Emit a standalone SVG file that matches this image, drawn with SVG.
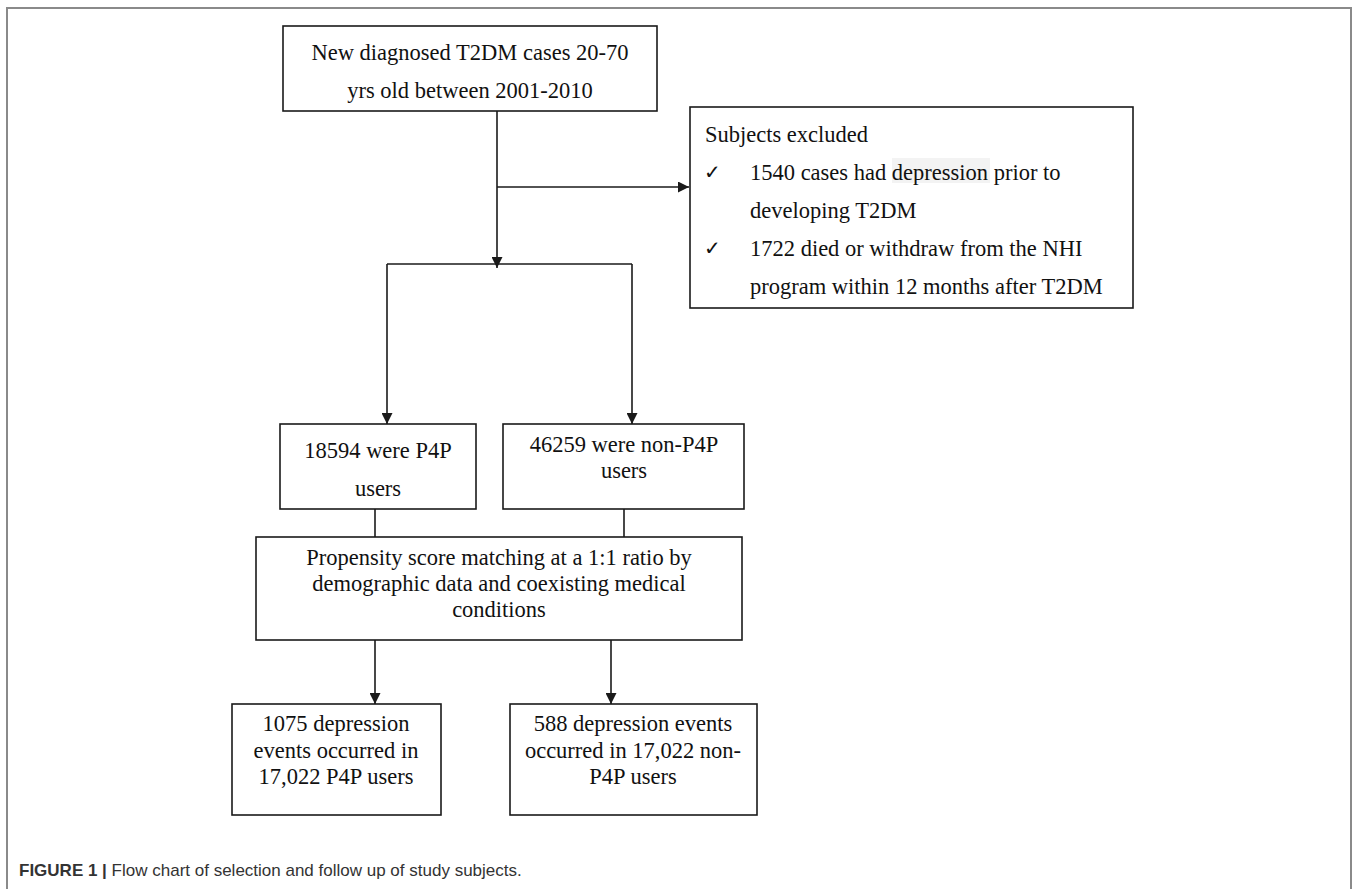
<svg xmlns="http://www.w3.org/2000/svg" width="1358" height="889" viewBox="0 0 1358 889">
<style>
.box{fill:#fff;stroke:#1a1a1a;stroke-width:1.6}
.t{font-family:"Liberation Serif","Times New Roman",serif;font-size:22.5px;fill:#111}
.c{text-anchor:middle}
.chk{font-family:"DejaVu Sans",sans-serif;font-size:20px;fill:#111}
.ln{fill:none;stroke:#1a1a1a;stroke-width:1.6}
.cap{font-family:"Liberation Sans",Arial,sans-serif;font-size:17px;fill:#333}
</style>
<defs>
<marker id="ah" markerUnits="userSpaceOnUse" markerWidth="11" markerHeight="11" refX="11" refY="5.5" orient="auto">
<path d="M0,0 L11,5.5 L0,11 z" fill="#1a1a1a"/>
</marker>
</defs>
<rect x="7" y="8" width="1344" height="900" fill="#fff" stroke="#8a8a8a" stroke-width="2"/>
<g id="connectors">
<path class="ln" d="M497,111 V268" marker-end="url(#ah)"/>
<path class="ln" d="M497,187 H689" marker-end="url(#ah)"/>
<path class="ln" d="M387,264 H632"/>
<path class="ln" d="M387,264 V424" marker-end="url(#ah)"/>
<path class="ln" d="M632,264 V424" marker-end="url(#ah)"/>
<path class="ln" d="M375,509 V537"/>
<path class="ln" d="M624,509 V537"/>
<path class="ln" d="M375,640 V704" marker-end="url(#ah)"/>
<path class="ln" d="M611,640 V704" marker-end="url(#ah)"/>
</g>
<g id="n-start">
<rect class="box" x="283" y="26" width="374" height="85"/>
<text class="t c" x="470" y="60">New diagnosed T2DM cases 20-70</text>
<text class="t c" x="470" y="98">yrs old between 2001-2010</text>
</g>
<g id="n-excluded">
<rect class="box" x="690" y="107" width="443" height="201"/>
<rect x="892" y="158" width="98" height="25" fill="#f3f3f3"/>
<text class="t" x="705" y="142">Subjects excluded</text>
<text class="chk" x="704" y="179">✓</text>
<text class="t" x="750" y="180">1540 cases had depression prior to</text>
<text class="t" x="750" y="218">developing T2DM</text>
<text class="chk" x="704" y="255">✓</text>
<text class="t" x="750" y="256">1722 died or withdraw from the NHI</text>
<text class="t" x="750" y="294">program within 12 months after T2DM</text>
</g>
<g id="n-p4p">
<rect class="box" x="280" y="424" width="196" height="85"/>
<text class="t c" x="378" y="458">18594 were P4P</text>
<text class="t c" x="378" y="496">users</text>
</g>
<g id="n-nonp4p">
<rect class="box" x="503" y="424" width="241" height="85"/>
<text class="t c" x="624" y="452">46259 were non-P4P</text>
<text class="t c" x="624" y="478">users</text>
</g>
<g id="n-psm">
<rect class="box" x="256" y="537" width="486" height="103"/>
<text class="t c" x="499" y="565">Propensity score matching at a 1:1 ratio by</text>
<text class="t c" x="499" y="591">demographic data and coexisting medical</text>
<text class="t c" x="499" y="617">conditions</text>
</g>
<g id="n-out-p4p">
<rect class="box" x="232" y="704" width="209" height="111"/>
<text class="t c" x="336" y="731">1075 depression</text>
<text class="t c" x="336" y="758">events occurred in</text>
<text class="t c" x="336" y="784">17,022 P4P users</text>
</g>
<g id="n-out-nonp4p">
<rect class="box" x="510" y="704" width="247" height="111"/>
<text class="t c" x="633" y="731">588 depression events</text>
<text class="t c" x="633" y="758">occurred in 17,022 non-</text>
<text class="t c" x="633" y="784">P4P users</text>
</g>
<text class="cap" x="19" y="876"><tspan font-weight="bold">FIGURE 1 |</tspan> Flow chart of selection and follow up of study subjects.</text>
</svg>
